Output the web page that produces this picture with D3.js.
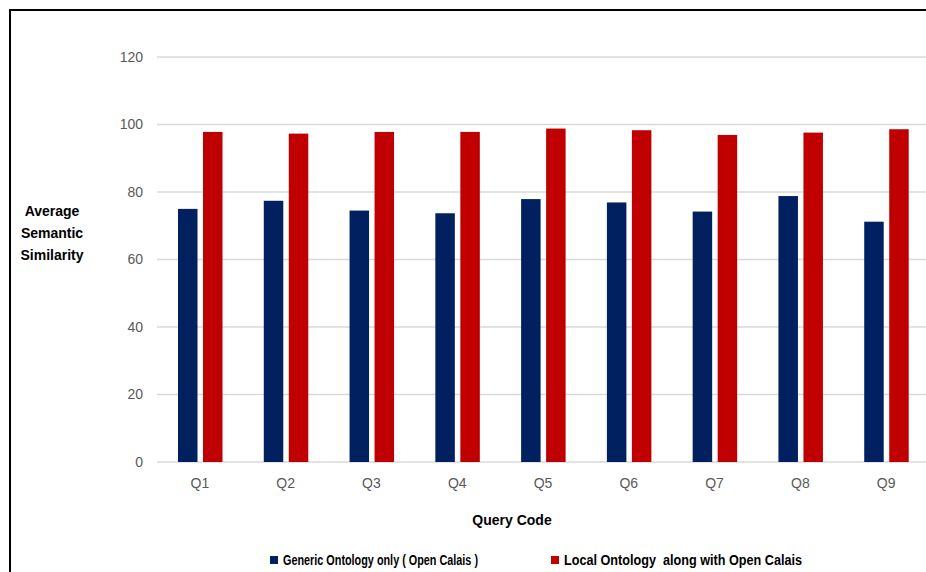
<!DOCTYPE html>
<html>
<head>
<meta charset="utf-8">
<script src="https://cdn.jsdelivr.net/npm/d3@7"></script>
<style>
  body { margin: 0; background: #fff; }
  svg text { font-family: "Liberation Sans", Arial, sans-serif; }
</style>
</head>
<body>
<svg id="chart" width="926" height="572"></svg>
<script>
// datos
const queries = ["Q1", "Q2", "Q3", "Q4", "Q5", "Q6", "Q7", "Q8", "Q9"];
const genericOnly = [75, 77.4, 74.5, 73.7, 77.9, 76.9, 74.2, 78.8, 71.2];
const localOntology = [97.8, 97.3, 97.8, 97.8, 98.8, 98.3, 96.9, 97.6, 98.6];
const seriesNames = ["Generic Ontology only ( Open Calais )", "Local Ontology  along with Open Calais"];
const seriesColors = ["#002060", "#C00000"];
const yTicks = [0, 20, 40, 60, 80, 100, 120];

const svg = d3.select("#chart");

// marco negro (recortado a la derecha y abajo)
svg.append("rect")
    .attr("x", 10).attr("y", 10)
    .attr("width", 1000).attr("height", 1000)
    .attr("fill", "none")
    .attr("stroke", "#000")
    .attr("stroke-width", 2);

const x = d3.scaleBand().domain(queries).range([157, 929]);
const inner = d3.scaleBand().domain([0, 1]).range([21, 65.5]).paddingInner(0.22);
const y = d3.scaleLinear().domain([0, 120]).range([462, 57]);

// líneas de cuadrícula
svg.append("g")
    .selectAll("line")
    .data(yTicks)
    .join("line")
    .attr("x1", 157).attr("x2", 929)
    .attr("y1", d => y(d)).attr("y2", d => y(d))
    .attr("stroke", "#d9d9d9")
    .attr("stroke-width", 1.3);

// eje Y
const yAxis = svg.append("g")
    .attr("transform", "translate(157,0)")
    .call(d3.axisLeft(y).tickValues(yTicks).tickSize(0).tickPadding(14));
yAxis.select(".domain").remove();
yAxis.selectAll("text")
    .attr("fill", "#595959")
    .style("font-size", "14px");

// eje X
const xAxis = svg.append("g")
    .attr("transform", "translate(0,462)")
    .call(d3.axisBottom(x).tickSize(0).tickPadding(16));
xAxis.select(".domain").remove();
xAxis.selectAll("text")
    .attr("fill", "#595959")
    .style("font-size", "14px");

// barras
const series = [genericOnly, localOntology];
series.forEach((vals, s) => {
    svg.append("g")
        .selectAll("rect")
        .data(vals)
        .join("rect")
        .attr("x", (d, i) => x(queries[i]) + inner(s))
        .attr("width", inner.bandwidth())
        .attr("y", d => y(d))
        .attr("height", d => y(0) - y(d))
        .attr("fill", seriesColors[s]);
});

// títulos de ejes
const yTitle = svg.append("text")
    .attr("text-anchor", "middle")
    .style("font-size", "14px")
    .style("font-weight", "bold")
    .attr("fill", "#000");
["Average", "Semantic", "Similarity"].forEach((t, i) => {
    yTitle.append("tspan").attr("x", 52).attr("y", 216 + i * 22).text(t);
});

svg.append("text")
    .attr("x", 512).attr("y", 525)
    .attr("text-anchor", "middle")
    .style("font-size", "14px")
    .style("font-weight", "bold")
    .text("Query Code");

// leyenda
const legendX = [270, 551];
const legendW = [195, 238];
seriesNames.forEach((name, s) => {
    const lg = svg.append("g").attr("transform", `translate(${legendX[s]},556)`);
    lg.append("rect").attr("width", 8).attr("height", 8).attr("fill", seriesColors[s]);
    lg.append("text")
        .attr("x", 13).attr("y", 9)
        .style("font-size", "14px")
        .style("font-weight", "bold")
        .style("white-space", "pre")
        .attr("textLength", legendW[s])
        .attr("lengthAdjust", "spacingAndGlyphs")
        .text(name);
});
</script>
</body>
</html>
